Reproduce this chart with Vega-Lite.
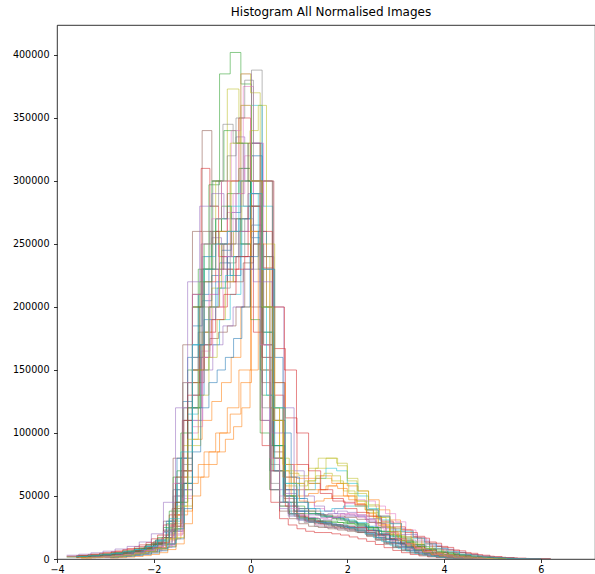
{
  "$schema": "https://vega.github.io/schema/vega-lite/v6.json",
  "width": 538,
  "height": 534,
  "autosize": {"type": "none"},
  "padding": {"left": 57, "top": 25, "right": 0, "bottom": 15},
  "title": {"text": "Histogram All Normalised Images", "font": "DejaVu Sans", "fontSize": 12, "fontWeight": "normal", "color": "#000", "offset": 6, "dx": 5},
  "data": {"values": [
    {"s":"s01","x":[-3.4,-3.2,-3.0,-2.8,-2.6,-2.4,-2.2,-2.0,-1.8,-1.6,-1.4,-1.2,-1.0,-0.8,-0.6,-0.4,-0.2,0.0,0.2,0.4,0.6,0.8,1.0,1.2,1.4,1.6,1.8,2.0,2.2,2.4,2.6,2.8,3.0,3.2,3.4,3.6,3.8,4.0,4.2,4.4,4.6,4.8,5.0],"y":[1500,2000,2600,3300,4300,5800,8000,12000,22000,55000,125000,185000,205000,225000,245000,275000,300000,255000,150000,70000,45000,35000,31000,29000,28000,27000,26000,25000,24000,21000,17000,13000,9500,7000,5000,3500,2400,1600,1000,600,350,150,0]},
    {"s":"s02","x":[-3.4,-3.2,-3.0,-2.8,-2.6,-2.4,-2.2,-2.0,-1.8,-1.6,-1.4,-1.2,-1.0,-0.8,-0.6,-0.4,-0.2,0.0,0.2,0.4,0.6,0.8,1.0,1.2,1.4,1.6,1.8,2.0,2.2,2.4,2.6,2.8,3.0,3.2,3.4,3.6,3.8,4.0,4.2,4.4,4.6,4.8,5.0],"y":[1200,1600,2100,2800,3700,5000,7000,10000,17000,35000,70000,95000,110000,125000,140000,160000,200000,290000,230000,120000,70000,55000,50000,52000,55000,58000,56000,50000,43000,36000,28000,21000,15000,10500,7000,4600,3000,1900,1200,700,400,180,0]},
    {"s":"s03","x":[-3.5,-3.28,-3.06,-2.84,-2.62,-2.4,-2.18,-1.96,-1.74,-1.52,-1.3,-1.08,-0.86,-0.64,-0.42,-0.2,0.02,0.24,0.46,0.68,0.9,1.12,1.34,1.56,1.78,2.0,2.22,2.44,2.66,2.88,3.1,3.32,3.54,3.76,3.98,4.2,4.42,4.64,4.86,5.08,5.3],"y":[2000,2600,3300,4200,5500,7200,10000,15000,28000,70000,150000,230000,297000,385000,402000,377000,280000,130000,70000,50000,42000,38000,35000,33000,31000,29000,27000,24000,20000,16000,12500,9500,7000,5000,3400,2200,1400,850,450,200,0]},
    {"s":"s04","x":[-3.6,-3.36,-3.12,-2.88,-2.64,-2.4,-2.16,-1.92,-1.68,-1.44,-1.2,-0.96,-0.72,-0.48,-0.24,0.0,0.24,0.48,0.72,0.96,1.2,1.44,1.68,1.92,2.16,2.4,2.64,2.88,3.12,3.36,3.6,3.84,4.08,4.32,4.56,4.8,5.04,5.28,5.52,5.76,6.0],"y":[2800,3600,4600,5900,7500,9800,13000,19000,35000,80000,140000,180000,200000,230000,260000,300000,231000,167000,112000,75000,60000,52000,48000,45000,43000,39000,34000,28500,23000,18000,13500,10000,7200,5000,3400,2200,1400,850,450,200,0]},
    {"s":"s05","x":[-3.4,-3.2,-3.0,-2.8,-2.6,-2.4,-2.2,-2.0,-1.8,-1.6,-1.4,-1.2,-1.0,-0.8,-0.6,-0.4,-0.2,0.0,0.2,0.4,0.6,0.8,1.0,1.2,1.4,1.6,1.8,2.0,2.2,2.4,2.6,2.8,3.0,3.2,3.4,3.6,3.8,4.0,4.2,4.4,4.6,4.8,5.0],"y":[1300,1800,2400,3100,4100,5500,7500,11000,21000,50000,110000,170000,240000,255000,240000,260000,310000,330000,200000,90000,55000,42000,38000,36000,35000,36000,38000,37000,35000,30000,25000,19500,14500,10500,7500,5000,3300,2100,1300,800,450,200,0]},
    {"s":"s06","x":[-3.4,-3.2,-3.0,-2.8,-2.6,-2.4,-2.2,-2.0,-1.8,-1.6,-1.4,-1.2,-1.0,-0.8,-0.6,-0.4,-0.2,0.0,0.2,0.4,0.6,0.8,1.0,1.2,1.4,1.6,1.8,2.0,2.2,2.4,2.6,2.8,3.0,3.2,3.4,3.6,3.8,4.0,4.2,4.4,4.6,4.8,5.0],"y":[1800,2400,3100,4000,5200,6800,9500,14000,30000,80000,170000,260000,340000,300000,260000,240000,250000,200000,110000,55000,38000,32000,28000,26000,25000,24000,23000,22000,21000,18500,15500,12500,9500,7000,5000,3500,2300,1500,950,550,300,130,0]},
    {"s":"s07","x":[-3.5,-3.28,-3.06,-2.84,-2.62,-2.4,-2.18,-1.96,-1.74,-1.52,-1.3,-1.08,-0.86,-0.64,-0.42,-0.2,0.02,0.24,0.46,0.68,0.9,1.12,1.34,1.56,1.78,2.0,2.22,2.44,2.66,2.88,3.1,3.32,3.54,3.76,3.98,4.2,4.42,4.64,4.86,5.08,5.3],"y":[800,1200,1700,2300,3100,4300,6000,9000,17000,45000,100000,160000,210000,250000,300000,385000,320000,170000,80000,45000,35000,30000,27000,25000,24000,23000,22000,20000,17500,14500,11500,8800,6500,4600,3100,2000,1250,750,400,180,0]},
    {"s":"s08","x":[-3.5,-3.28,-3.06,-2.84,-2.62,-2.4,-2.18,-1.96,-1.74,-1.52,-1.3,-1.08,-0.86,-0.64,-0.42,-0.2,0.02,0.24,0.46,0.68,0.9,1.12,1.34,1.56,1.78,2.0,2.22,2.44,2.66,2.88,3.1,3.32,3.54,3.76,3.98,4.2,4.42,4.64,4.86,5.08,5.3],"y":[1100,1500,2000,2700,3600,5000,7000,10500,22000,55000,120000,180000,200000,215000,250000,300000,388000,300000,110000,55000,38000,32000,29000,27000,26000,25000,24000,21500,18500,15000,11500,8500,6200,4300,2900,1900,1150,700,380,170,0]},
    {"s":"s09","x":[-3.4,-3.2,-3.0,-2.8,-2.6,-2.4,-2.2,-2.0,-1.8,-1.6,-1.4,-1.2,-1.0,-0.8,-0.6,-0.4,-0.2,0.0,0.2,0.4,0.6,0.8,1.0,1.2,1.4,1.6,1.8,2.0,2.2,2.4,2.6,2.8,3.0,3.2,3.4,3.6,3.8,4.0,4.2,4.4,4.6,4.8,5.0],"y":[900,1300,1800,2400,3200,4400,6200,9000,16000,40000,90000,140000,180000,215000,250000,300000,385000,370000,240000,120000,80000,68000,66000,72000,80000,80000,74000,62000,52000,42000,33000,25000,18500,13500,9500,6500,4300,2800,1800,1100,600,250,0]},
    {"s":"s10","x":[-3.5,-3.28,-3.06,-2.84,-2.62,-2.4,-2.18,-1.96,-1.74,-1.52,-1.3,-1.08,-0.86,-0.64,-0.42,-0.2,0.02,0.24,0.46,0.68,0.9,1.12,1.34,1.56,1.78,2.0,2.22,2.44,2.66,2.88,3.1,3.32,3.54,3.76,3.98,4.2,4.42,4.64,4.86,5.08,5.3],"y":[1500,2000,2600,3400,4500,6000,8200,12000,24000,60000,115000,150000,170000,190000,210000,250000,360000,280000,120000,60000,48000,55000,64000,72000,70000,60000,50000,40000,31000,23000,16500,11500,8000,5400,3600,2300,1400,850,450,200,0]},
    {"s":"s11","x":[-3.5,-3.28,-3.06,-2.84,-2.62,-2.4,-2.18,-1.96,-1.74,-1.52,-1.3,-1.08,-0.86,-0.64,-0.42,-0.2,0.02,0.24,0.46,0.68,0.9,1.12,1.34,1.56,1.78,2.0,2.22,2.44,2.66,2.88,3.1,3.32,3.54,3.76,3.98,4.2,4.42,4.64,4.86,5.08,5.3],"y":[2200,2900,3700,4700,6000,7800,10500,15000,30000,80000,160000,210000,230000,235000,225000,240000,265000,180000,90000,50000,38000,33000,30000,28000,27000,26000,25000,23000,20000,16500,13000,10000,7300,5200,3500,2300,1450,900,480,200,0]},
    {"s":"s12","x":[-3.5,-3.28,-3.06,-2.84,-2.62,-2.4,-2.18,-1.96,-1.74,-1.52,-1.3,-1.08,-0.86,-0.64,-0.42,-0.2,0.02,0.24,0.46,0.68,0.9,1.12,1.34,1.56,1.78,2.0,2.22,2.44,2.66,2.88,3.1,3.32,3.54,3.76,3.98,4.2,4.42,4.64,4.86,5.08,5.3],"y":[1000,1400,1900,2500,3300,4500,6200,9000,15000,35000,60000,75000,85000,100000,115000,140000,290000,240000,130000,75000,60000,55000,55000,58000,60000,58000,54000,47000,39000,31000,23500,17000,12000,8200,5400,3500,2200,1300,700,300,0]},
    {"s":"s13","x":[-3.4,-3.2,-3.0,-2.8,-2.6,-2.4,-2.2,-2.0,-1.8,-1.6,-1.4,-1.2,-1.0,-0.8,-0.6,-0.4,-0.2,0.0,0.2,0.4,0.6,0.8,1.0,1.2,1.4,1.6,1.8,2.0,2.2,2.4,2.6,2.8,3.0,3.2,3.4,3.6,3.8,4.0,4.2,4.4,4.6,4.8,5.0],"y":[1400,1900,2500,3200,4200,5600,7800,11500,25000,65000,140000,200000,230000,260000,280000,270000,250000,190000,100000,55000,42000,36000,33000,31000,30000,30000,29000,28000,26000,23000,19500,16000,12500,9500,7000,4800,3200,2100,1300,800,450,200,0]},
    {"s":"s14","x":[-3.0,-2.82,-2.64,-2.46,-2.28,-2.1,-1.92,-1.74,-1.56,-1.38,-1.2,-1.02,-0.84,-0.66,-0.48,-0.3,-0.12,0.06,0.24,0.42,0.6,0.78,0.96,1.14,1.32,1.5,1.68,1.86,2.04,2.22,2.4,2.58,2.76,2.94,3.12,3.3,3.48,3.66,3.84,4.02,4.2,4.38,4.56],"y":[2500,3300,4300,5500,7000,9000,12500,19000,45000,110000,200000,310000,280000,240000,220000,230000,240000,180000,90000,45000,32000,27000,24000,22000,21000,21000,20000,19000,17500,16000,14000,11500,9000,6800,5000,3600,2500,1700,1100,700,400,180,0]},
    {"s":"s15","x":[-3.0,-2.82,-2.64,-2.46,-2.28,-2.1,-1.92,-1.74,-1.56,-1.38,-1.2,-1.02,-0.84,-0.66,-0.48,-0.3,-0.12,0.06,0.24,0.42,0.6,0.78,0.96,1.14,1.32,1.5,1.68,1.86,2.04,2.22,2.4,2.58,2.76,2.94,3.12,3.3,3.48,3.66,3.84,4.02,4.2,4.38,4.56],"y":[1300,1800,2500,3300,4300,5800,8000,11500,22000,55000,120000,170000,200000,230000,260000,335000,300000,220000,110000,55000,40000,34000,31000,30000,30000,31000,32000,31000,29000,26000,22500,19000,15500,12000,9000,6500,4500,3000,1900,1150,650,300,0]},
    {"s":"s16","x":[-3.0,-2.82,-2.64,-2.46,-2.28,-2.1,-1.92,-1.74,-1.56,-1.38,-1.2,-1.02,-0.84,-0.66,-0.48,-0.3,-0.12,0.06,0.24,0.42,0.6,0.78,0.96,1.14,1.32,1.5,1.68,1.86,2.04,2.22,2.4,2.58,2.76,2.94,3.12,3.3,3.48,3.66,3.84,4.02,4.2,4.38,4.56],"y":[1600,2100,2800,3600,4700,6200,8500,12000,24000,60000,120000,160000,175000,180000,185000,200000,230000,250000,140000,70000,45000,38000,34000,32000,30000,28000,26000,24500,23000,21000,18000,15000,12000,9200,6800,4900,3400,2300,1500,900,500,220,0]},
    {"s":"s17","x":[-3.0,-2.82,-2.64,-2.46,-2.28,-2.1,-1.92,-1.74,-1.56,-1.38,-1.2,-1.02,-0.84,-0.66,-0.48,-0.3,-0.12,0.06,0.24,0.42,0.6,0.78,0.96,1.14,1.32,1.5,1.68,1.86,2.04,2.22,2.4,2.58,2.76,2.94,3.12,3.3,3.48,3.66,3.84,4.02,4.2,4.38,4.56],"y":[1100,1600,2200,2900,3800,5100,7200,10500,20000,50000,110000,165000,210000,250000,275000,290000,320000,260000,150000,70000,45000,36000,32000,30000,29000,30000,33000,36000,35000,33000,29000,24500,19500,15000,11000,7800,5300,3500,2200,1300,750,330,0]},
    {"s":"s18","x":[-3.0,-2.82,-2.64,-2.46,-2.28,-2.1,-1.92,-1.74,-1.56,-1.38,-1.2,-1.02,-0.84,-0.66,-0.48,-0.3,-0.12,0.06,0.24,0.42,0.6,0.78,0.96,1.14,1.32,1.5,1.68,1.86,2.04,2.22,2.4,2.58,2.76,2.94,3.12,3.3,3.48,3.66,3.84,4.02,4.2,4.38,4.56],"y":[2800,3600,4600,5800,7400,9500,13000,20000,50000,120000,210000,250000,260000,250000,235000,240000,270000,230000,120000,60000,42000,36000,33000,31000,30000,29000,27500,26000,24000,21500,18500,15000,11800,9000,6600,4700,3200,2100,1350,800,450,200,0]},
    {"s":"s19","x":[-3.6,-3.36,-3.12,-2.88,-2.64,-2.4,-2.16,-1.92,-1.68,-1.44,-1.2,-0.96,-0.72,-0.48,-0.24,0.0,0.24,0.48,0.72,0.96,1.2,1.44,1.68,1.92,2.16,2.4,2.64,2.88,3.12,3.36,3.6,3.84,4.08,4.32,4.56,4.8,5.04,5.28,5.52,5.76,6.0],"y":[1200,1700,2300,3100,4100,5500,7800,11500,24000,65000,150000,230000,300000,373000,330000,260000,150000,80000,58000,55000,60000,64000,62000,54000,46000,37000,29000,22000,16000,11500,8000,5500,3700,2400,1500,900,550,300,140,60,0]},
    {"s":"s20","x":[-3.6,-3.36,-3.12,-2.88,-2.64,-2.4,-2.16,-1.92,-1.68,-1.44,-1.2,-0.96,-0.72,-0.48,-0.24,0.0,0.24,0.48,0.72,0.96,1.2,1.44,1.68,1.92,2.16,2.4,2.64,2.88,3.12,3.36,3.6,3.84,4.08,4.32,4.56,4.8,5.04,5.28,5.52,5.76,6.0],"y":[1900,2500,3200,4100,5300,7000,9500,14000,30000,80000,170000,240000,270000,280000,300000,320000,200000,90000,50000,40000,36000,34000,33000,31000,29000,26000,22000,18000,14000,10500,7700,5500,3800,2500,1600,1000,600,330,160,60,0]},
    {"s":"s21","x":[-3.6,-3.36,-3.12,-2.88,-2.64,-2.4,-2.16,-1.92,-1.68,-1.44,-1.2,-0.96,-0.72,-0.48,-0.24,0.0,0.24,0.48,0.72,0.96,1.2,1.44,1.68,1.92,2.16,2.4,2.64,2.88,3.12,3.36,3.6,3.84,4.08,4.32,4.56,4.8,5.04,5.28,5.52,5.76,6.0],"y":[1500,2000,2700,3500,4600,6100,8300,12000,23000,60000,130000,190000,220000,240000,270000,330000,240000,110000,55000,38000,32000,29000,27000,25000,23000,20000,16500,13000,10000,7400,5300,3700,2500,1600,1000,600,340,180,80,30,0]},
    {"s":"s22","x":[-3.6,-3.36,-3.12,-2.88,-2.64,-2.4,-2.16,-1.92,-1.68,-1.44,-1.2,-0.96,-0.72,-0.48,-0.24,0.0,0.24,0.48,0.72,0.96,1.2,1.44,1.68,1.92,2.16,2.4,2.64,2.88,3.12,3.36,3.6,3.84,4.08,4.32,4.56,4.8,5.04,5.28,5.52,5.76,6.0],"y":[1000,1400,1900,2500,3300,4400,6000,8800,16000,38000,65000,85000,100000,120000,150000,260000,300000,140000,75000,64000,64000,66000,60000,50000,42000,34000,26500,20000,14500,10200,7000,4700,3100,2000,1250,750,420,220,100,40,0]},
    {"s":"s23","x":[-3.6,-3.36,-3.12,-2.88,-2.64,-2.4,-2.16,-1.92,-1.68,-1.44,-1.2,-0.96,-0.72,-0.48,-0.24,0.0,0.24,0.48,0.72,0.96,1.2,1.44,1.68,1.92,2.16,2.4,2.64,2.88,3.12,3.36,3.6,3.84,4.08,4.32,4.56,4.8,5.04,5.28,5.52,5.76,6.0],"y":[2400,3100,4000,5100,6500,8500,11500,17000,38000,100000,200000,250000,270000,290000,310000,280000,180000,80000,45000,36000,32000,30000,29000,28000,27000,25000,22000,18500,15000,11500,8600,6200,4300,2900,1900,1200,700,380,180,70,0]},
    {"s":"s24","x":[-3.6,-3.36,-3.12,-2.88,-2.64,-2.4,-2.16,-1.92,-1.68,-1.44,-1.2,-0.96,-0.72,-0.48,-0.24,0.0,0.24,0.48,0.72,0.96,1.2,1.44,1.68,1.92,2.16,2.4,2.64,2.88,3.12,3.36,3.6,3.84,4.08,4.32,4.56,4.8,5.04,5.28,5.52,5.76,6.0],"y":[1700,2300,3000,3900,5000,6600,9000,13000,26000,70000,150000,220000,260000,300000,350000,300000,160000,70000,42000,34000,30000,28000,27000,26000,25000,22500,19500,16000,12500,9500,7000,5000,3400,2200,1400,850,500,260,120,50,0]},
    {"s":"s25","x":[-3.3,-3.09,-2.88,-2.67,-2.46,-2.25,-2.04,-1.83,-1.62,-1.41,-1.2,-0.99,-0.78,-0.57,-0.36,-0.15,0.06,0.27,0.48,0.69,0.9,1.11,1.32,1.53,1.74,1.95,2.16,2.37,2.58,2.79,3.0,3.21,3.42,3.63,3.84,4.05,4.26,4.47,4.68,4.89,5.1],"y":[1400,1900,2500,3200,4200,5600,7700,11000,22000,55000,110000,150000,170000,185000,200000,230000,280000,300000,200000,120000,70000,50000,42000,38000,36000,35000,34000,31500,28000,24000,19500,15000,11000,7800,5300,3500,2200,1300,700,300,0]},
    {"s":"s26","x":[-3.3,-3.09,-2.88,-2.67,-2.46,-2.25,-2.04,-1.83,-1.62,-1.41,-1.2,-0.99,-0.78,-0.57,-0.36,-0.15,0.06,0.27,0.48,0.69,0.9,1.11,1.32,1.53,1.74,1.95,2.16,2.37,2.58,2.79,3.0,3.21,3.42,3.63,3.84,4.05,4.26,4.47,4.68,4.89,5.1],"y":[2300,3000,3900,5000,6400,8300,11500,17000,40000,110000,210000,260000,250000,230000,220000,235000,250000,170000,85000,48000,36000,31000,28000,26000,25000,24000,23000,21000,18500,15500,12500,9500,7000,5000,3400,2200,1400,850,450,200,0]},
    {"s":"s27","x":[-3.3,-3.09,-2.88,-2.67,-2.46,-2.25,-2.04,-1.83,-1.62,-1.41,-1.2,-0.99,-0.78,-0.57,-0.36,-0.15,0.06,0.27,0.48,0.69,0.9,1.11,1.32,1.53,1.74,1.95,2.16,2.37,2.58,2.79,3.0,3.21,3.42,3.63,3.84,4.05,4.26,4.47,4.68,4.89,5.1],"y":[1000,1400,1900,2500,3300,4500,6300,9200,19000,48000,105000,160000,200000,240000,290000,375000,330000,230000,130000,75000,55000,45000,40000,38000,40000,44000,47000,46000,42000,36000,29500,23000,17000,12000,8200,5400,3500,2100,1200,500,0]},
    {"s":"s28","x":[-3.3,-3.09,-2.88,-2.67,-2.46,-2.25,-2.04,-1.83,-1.62,-1.41,-1.2,-0.99,-0.78,-0.57,-0.36,-0.15,0.06,0.27,0.48,0.69,0.9,1.11,1.32,1.53,1.74,1.95,2.16,2.37,2.58,2.79,3.0,3.21,3.42,3.63,3.84,4.05,4.26,4.47,4.68,4.89,5.1],"y":[1800,2400,3100,4000,5200,6800,9200,13500,28000,75000,160000,230000,300000,345000,330000,280000,250000,170000,80000,45000,34000,29000,26000,25000,24000,23000,21500,19500,17000,14000,11000,8300,6100,4300,2900,1900,1200,700,380,160,0]},
    {"s":"s29","x":[-2.9,-2.73,-2.56,-2.39,-2.22,-2.05,-1.88,-1.71,-1.54,-1.37,-1.2,-1.03,-0.86,-0.69,-0.52,-0.35,-0.18,-0.01,0.16,0.33,0.5,0.67,0.84,1.01,1.18,1.35,1.52,1.69,1.86,2.03,2.2,2.37,2.54,2.71,2.88,3.05,3.22,3.39,3.56,3.73,3.9,4.07,4.24,4.41,4.58],"y":[1500,2000,2600,3300,4200,5500,7300,10000,17000,42000,90000,130000,160000,190000,220000,260000,300000,340000,360000,250000,120000,75000,60000,58000,62000,66000,68000,66000,60000,52000,46000,39000,32000,25500,19500,14500,10500,7300,5000,3300,2100,1300,750,350,0]},
    {"s":"s30","x":[-2.9,-2.73,-2.56,-2.39,-2.22,-2.05,-1.88,-1.71,-1.54,-1.37,-1.2,-1.03,-0.86,-0.69,-0.52,-0.35,-0.18,-0.01,0.16,0.33,0.5,0.67,0.84,1.01,1.18,1.35,1.52,1.69,1.86,2.03,2.2,2.37,2.54,2.71,2.88,3.05,3.22,3.39,3.56,3.73,3.9,4.07,4.24,4.41,4.58],"y":[1700,2200,2900,3700,4800,6200,8300,12000,24000,60000,120000,170000,200000,215000,225000,240000,270000,290000,230000,130000,70000,45000,36000,32000,30000,29000,28000,27000,26000,24500,22500,20000,17000,14000,11000,8500,6300,4500,3100,2000,1250,750,400,180,0]},
    {"s":"s31","x":[-2.9,-2.73,-2.56,-2.39,-2.22,-2.05,-1.88,-1.71,-1.54,-1.37,-1.2,-1.03,-0.86,-0.69,-0.52,-0.35,-0.18,-0.01,0.16,0.33,0.5,0.67,0.84,1.01,1.18,1.35,1.52,1.69,1.86,2.03,2.2,2.37,2.54,2.71,2.88,3.05,3.22,3.39,3.56,3.73,3.9,4.07,4.24,4.41,4.58],"y":[1100,1500,2000,2700,3500,4700,6500,9500,16000,40000,85000,120000,140000,150000,160000,175000,200000,240000,260000,230000,160000,100000,65000,48000,40000,36000,34000,33000,32000,30000,28000,25500,22500,19000,15500,12000,9000,6500,4500,3000,1900,1100,600,250,0]},
    {"s":"s32","x":[-2.9,-2.73,-2.56,-2.39,-2.22,-2.05,-1.88,-1.71,-1.54,-1.37,-1.2,-1.03,-0.86,-0.69,-0.52,-0.35,-0.18,-0.01,0.16,0.33,0.5,0.67,0.84,1.01,1.18,1.35,1.52,1.69,1.86,2.03,2.2,2.37,2.54,2.71,2.88,3.05,3.22,3.39,3.56,3.73,3.9,4.07,4.24,4.41,4.58],"y":[800,1100,1500,2000,2700,3600,5000,7500,12000,28000,50000,65000,75000,85000,95000,105000,120000,150000,250000,200000,110000,65000,50000,46000,45000,46000,48000,50000,50000,47000,44000,39000,33500,27500,21500,16500,12000,8500,5800,3800,2400,1400,750,300,0]},
    {"s":"s33","x":[-3.8,-3.55,-3.3,-3.05,-2.8,-2.55,-2.3,-2.05,-1.8,-1.55,-1.3,-1.05,-0.8,-0.55,-0.3,-0.05,0.2,0.45,0.7,0.95,1.2,1.45,1.7,1.95,2.2,2.45,2.7,2.95,3.2,3.45,3.7,3.95,4.2,4.45,4.7,4.95,5.2,5.45,5.7,5.95,6.2],"y":[1600,2100,2800,3600,4700,6200,8500,12500,22000,45000,120000,220000,300000,340000,330000,300000,200000,90000,50000,40000,36000,34000,32000,30000,28000,25000,21500,17500,13500,10000,7300,5200,3600,2400,1500,900,520,270,120,50,0]},
    {"s":"s34","x":[-3.8,-3.55,-3.3,-3.05,-2.8,-2.55,-2.3,-2.05,-1.8,-1.55,-1.3,-1.05,-0.8,-0.55,-0.3,-0.05,0.2,0.45,0.7,0.95,1.2,1.45,1.7,1.95,2.2,2.45,2.7,2.95,3.2,3.45,3.7,3.95,4.2,4.45,4.7,4.95,5.2,5.45,5.7,5.95,6.2],"y":[2300,3000,3900,5000,6400,8300,11200,16000,27000,65000,130000,170000,190000,210000,240000,280000,260000,200000,150000,100000,70000,55000,46000,40000,37000,34000,30000,25500,21000,16500,12500,9200,6500,4500,3000,1900,1150,650,300,120,0]},
    {"s":"s35","x":[-3.8,-3.55,-3.3,-3.05,-2.8,-2.55,-2.3,-2.05,-1.8,-1.55,-1.3,-1.05,-0.8,-0.55,-0.3,-0.05,0.2,0.45,0.7,0.95,1.2,1.45,1.7,1.95,2.2,2.45,2.7,2.95,3.2,3.45,3.7,3.95,4.2,4.45,4.7,4.95,5.2,5.45,5.7,5.95,6.2],"y":[3000,3800,4900,6200,7900,10000,13500,20000,45000,120000,220000,280000,290000,270000,260000,290000,220000,100000,52000,40000,35000,33000,33000,34000,34000,32000,28500,24000,19500,15000,11000,7800,5400,3600,2300,1400,800,420,190,70,0]},
    {"s":"s36","x":[-3.8,-3.55,-3.3,-3.05,-2.8,-2.55,-2.3,-2.05,-1.8,-1.55,-1.3,-1.05,-0.8,-0.55,-0.3,-0.05,0.2,0.45,0.7,0.95,1.2,1.45,1.7,1.95,2.2,2.45,2.7,2.95,3.2,3.45,3.7,3.95,4.2,4.45,4.7,4.95,5.2,5.45,5.7,5.95,6.2],"y":[1700,2200,2900,3700,4800,6300,8600,12500,23000,60000,140000,200000,230000,250000,270000,330000,300000,140000,65000,45000,38000,35000,34000,33000,31500,29000,25500,21500,17500,13500,10000,7200,5000,3300,2100,1300,750,400,180,70,0]},
    {"s":"s37","x":[-3.4,-3.2,-3.0,-2.8,-2.6,-2.4,-2.2,-2.0,-1.8,-1.6,-1.4,-1.2,-1.0,-0.8,-0.6,-0.4,-0.2,0.0,0.2,0.4,0.6,0.8,1.0,1.2,1.4,1.6,1.8,2.0,2.2,2.4,2.6,2.8,3.0,3.2,3.4,3.6,3.8,4.0,4.2,4.4,4.6,4.8,5.0],"y":[1000,1400,1900,2600,3500,4800,6800,10000,22000,60000,140000,210000,250000,270000,300000,340000,360000,300000,170000,80000,50000,40000,35000,33000,32000,33000,35000,36000,35000,31000,26000,21000,16000,12000,8500,5800,3800,2400,1500,900,500,220,0]},
    {"s":"s38","x":[-3.0,-2.82,-2.64,-2.46,-2.28,-2.1,-1.92,-1.74,-1.56,-1.38,-1.2,-1.02,-0.84,-0.66,-0.48,-0.3,-0.12,0.06,0.24,0.42,0.6,0.78,0.96,1.14,1.32,1.5,1.68,1.86,2.04,2.22,2.4,2.58,2.76,2.94,3.12,3.3,3.48,3.66,3.84,4.02,4.2,4.38,4.56],"y":[1500,2000,2700,3500,4600,6100,8400,12000,26000,70000,150000,230000,280000,300000,320000,350000,380000,300000,160000,75000,45000,36000,32000,30000,29000,28000,27000,26000,24500,22500,19500,16500,13000,10000,7500,5400,3800,2600,1700,1000,550,250,0]},
    {"s":"s39","x":[-3.5,-3.28,-3.06,-2.84,-2.62,-2.4,-2.18,-1.96,-1.74,-1.52,-1.3,-1.08,-0.86,-0.64,-0.42,-0.2,0.02,0.24,0.46,0.68,0.9,1.12,1.34,1.56,1.78,2.0,2.22,2.44,2.66,2.88,3.1,3.32,3.54,3.76,3.98,4.2,4.42,4.64,4.86,5.08,5.3],"y":[800,1100,1600,2200,3000,4100,5800,8500,16000,42000,95000,150000,200000,260000,330000,360000,300000,200000,110000,70000,60000,62000,72000,80000,76000,64000,54000,43000,33000,24500,17500,12000,8200,5400,3500,2200,1350,800,420,180,0]},
    {"s":"s40","x":[-3.6,-3.36,-3.12,-2.88,-2.64,-2.4,-2.16,-1.92,-1.68,-1.44,-1.2,-0.96,-0.72,-0.48,-0.24,0.0,0.24,0.48,0.72,0.96,1.2,1.44,1.68,1.92,2.16,2.4,2.64,2.88,3.12,3.36,3.6,3.84,4.08,4.32,4.56,4.8,5.04,5.28,5.52,5.76,6.0],"y":[2000,2600,3400,4400,5700,7500,10000,15000,32000,85000,170000,230000,250000,260000,280000,290000,230000,120000,60000,45000,40000,38000,40000,42000,42000,39000,34000,28000,22000,16500,12000,8500,5800,3800,2400,1500,900,500,230,90,0]}
  ]},
  "transform": [{"flatten": ["x", "y"]}],
  "mark": {"type": "line", "interpolate": "step-after", "strokeWidth": 1, "strokeOpacity": 0.55, "clip": true},
  "encoding": {
    "x": {"field": "x", "type": "quantitative", "scale": {"domain": [-4, 7.12], "nice": false, "zero": false},
      "axis": {"values": [-4, -2, 0, 2, 4, 6], "format": "d", "title": null, "labelPadding": 2}},
    "y": {"field": "y", "type": "quantitative", "scale": {"domain": [0, 423800], "nice": false},
      "axis": {"values": [0, 50000, 100000, 150000, 200000, 250000, 300000, 350000, 400000], "format": "d", "title": null}},
    "color": {"field": "s", "type": "nominal", "legend": null,
      "scale": {"range": ["#1f77b4", "#ff7f0e", "#2ca02c", "#d62728", "#9467bd", "#8c564b", "#e377c2", "#7f7f7f", "#bcbd22", "#17becf"]}}
  },
  "config": {
    "view": {"stroke": "#000", "strokeWidth": 0.8},
    "axis": {"grid": false, "domain": false, "ticks": true, "tickColor": "#000", "tickSize": 3.5, "tickWidth": 0.8, "labelFont": "DejaVu Sans", "labelFontSize": 9.6, "labelColor": "#000", "labelPadding": 4.5, "labelFlush": false, "labelOverlap": false}
  }
}
